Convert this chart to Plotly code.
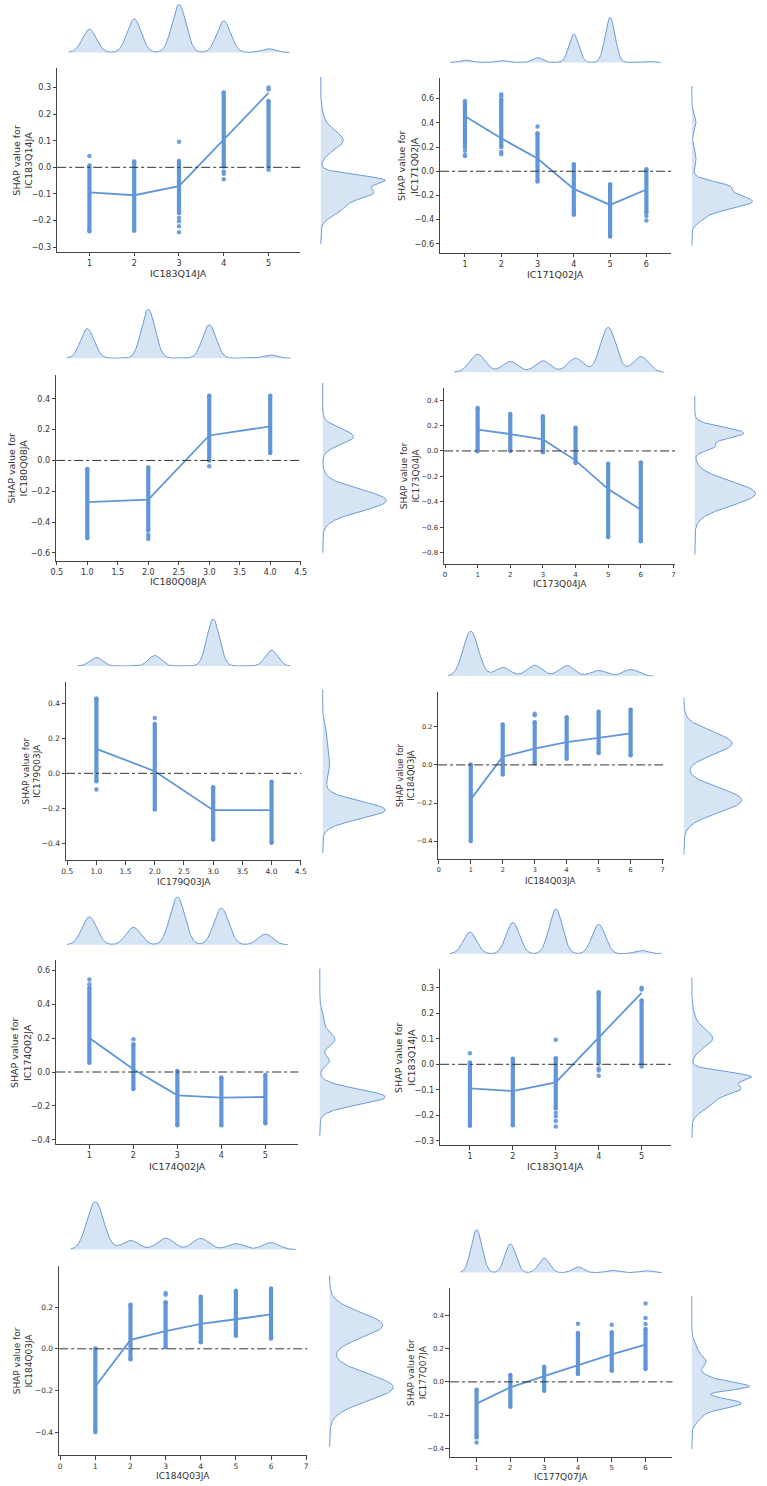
import numpy as np
import plotly.graph_objects as go

W, H = 767, 1486

# ---------------- data ----------------
# IC183Q14JA
q183_cats = [1, 2, 3, 4, 5]
q183_mean = [-0.094, -0.105, -0.071, 0.105, 0.280]
q183_lo = [-0.241, -0.239, -0.172, 0.003, 0.003]
q183_hi = [0.007, 0.022, 0.024, 0.282, 0.250]
q183_out_x = [1, 3, 3, 3, 3, 3, 4, 4, 4, 5, 5, 5]
q183_out_y = [0.043, 0.096, -0.190, -0.203, -0.222, -0.244, -0.016, -0.024, -0.045, 0.300, 0.293, -0.009]
q183_count = [70, 101, 145, 95, 11]
q183_bw = 0.155
q183_ky_c = [0.10, 0.17, -0.047, -0.095, -0.15]
q183_ky_h = [22, 3, 60, 48, 22]
q183_ky_w = [0.035, 0.04, 0.018, 0.022, 0.03]
q183_ky_span = [-0.288, 0.34]

# IC171Q02JA
q171_cats = [1, 2, 3, 4, 5, 6]
q171_mean = [0.455, 0.272, 0.105, -0.146, -0.278, -0.151]
q171_lo = [0.20, 0.20, -0.085, -0.360, -0.540, -0.340]
q171_hi = [0.55, 0.59, 0.314, 0.058, -0.107, 0.016]
q171_out_x = [1, 1, 1, 1, 1, 2, 2, 2, 2, 3, 6, 6]
q171_out_y = [0.58, 0.565, 0.17, 0.135, 0.127, 0.636, 0.62, 0.16, 0.14, 0.369, -0.37, -0.407]
q171_count = [7, 6, 15, 88, 140, 4]
q171_bw = 0.135
q171_ky_c = [-0.25, -0.12, -0.40, 0.10, 0.40]
q171_ky_h = [58, 28, 6, 4, 4]
q171_ky_w = [0.065, 0.04, 0.04, 0.08, 0.06]
q171_ky_span = [-0.614, 0.705]

# IC180Q08JA
q180_cats = [1, 2, 3, 4]
q180_mean = [-0.270, -0.254, 0.162, 0.221]
q180_lo = [-0.503, -0.453, 0.0, 0.048]
q180_hi = [-0.056, -0.045, 0.419, 0.420]
q180_out_x = [2, 2, 2, 3]
q180_out_y = [-0.48, -0.495, -0.509, -0.038]
q180_count = [90, 149, 102, 10]
q180_bw = 0.111
q180_ky_c = [0.155, -0.26]
q180_ky_h = [32, 66]
q180_ky_w = [0.05, 0.07]
q180_ky_span = [-0.598, 0.504]

# IC173Q04JA
q173_cats = [1, 2, 3, 4, 5, 6]
q173_mean = [0.167, 0.133, 0.091, -0.074, -0.300, -0.462]
q173_lo = [-0.003, 0.0, -0.010, -0.095, -0.677, -0.710]
q173_hi = [0.337, 0.290, 0.272, 0.183, -0.100, -0.090]
q173_out_x = []
q173_out_y = []
q173_count = [55, 33, 35, 43, 138, 48]
q173_bw = 0.24
q173_ky_c = [0.14, 0.03, -0.335]
q173_ky_h = [50, 18, 62]
q173_ky_w = [0.045, 0.03, 0.095]
q173_ky_span = [-0.816, 0.434]

# IC179Q03JA
q179_cats = [1, 2, 3, 4]
q179_mean = [0.140, 0.012, -0.210, -0.210]
q179_lo = [-0.045, -0.206, -0.377, -0.396]
q179_hi = [0.421, 0.282, -0.079, -0.048]
q179_out_x = [1, 1, 2]
q179_out_y = [-0.092, 0.427, 0.316]
q179_count = [26, 32, 143, 48]
q179_bw = 0.107
q179_ky_c = [-0.21, 0.05, 0.22]
q179_ky_h = [64, 7, 3]
q179_ky_w = [0.05, 0.09, 0.05]
q179_ky_span = [-0.453, 0.478]

# IC184Q03JA
q184_cats = [1, 2, 3, 4, 5, 6]
q184_mean = [-0.181, 0.043, 0.085, 0.120, 0.142, 0.165]
q184_lo = [-0.400, -0.050, 0.008, 0.032, 0.063, 0.050]
q184_hi = [0.002, 0.212, 0.224, 0.250, 0.279, 0.290]
q184_out_x = [3, 3]
q184_out_y = [0.268, 0.260]
q184_count = [137, 26, 33, 32, 17, 20]
q184_bw = 0.235
q184_ky_c = [0.113, -0.185]
q184_ky_h = [50, 60]
q184_ky_w = [0.06, 0.065]
q184_ky_span = [-0.47, 0.352]

# IC174Q02JA
q174_cats = [1, 2, 3, 4, 5]
q174_mean = [0.200, 0.016, -0.137, -0.151, -0.147]
q174_lo = [0.055, -0.100, -0.314, -0.314, -0.302]
q174_hi = [0.496, 0.163, 0.006, -0.033, -0.018]
q174_out_x = [1, 1, 2]
q174_out_y = [0.545, 0.516, 0.192]
q174_count = [86, 54, 148, 113, 33]
q174_bw = 0.168
q174_ky_c = [-0.147, 0.19, 0.065, 0.30]
q174_ky_h = [62, 14, 9, 4]
q174_ky_w = [0.045, 0.04, 0.03, 0.05]
q174_ky_span = [-0.376, 0.608]

# IC177Q07JA
q177_cats = [1, 2, 3, 4, 5, 6]
q177_mean = [-0.131, -0.033, 0.035, 0.101, 0.165, 0.224]
q177_lo = [-0.334, -0.149, -0.053, 0.047, 0.067, 0.077]
q177_hi = [-0.047, 0.041, 0.091, 0.294, 0.298, 0.318]
q177_out_x = [1, 4, 5, 6, 6, 6]
q177_out_y = [-0.364, 0.350, 0.344, 0.472, 0.384, 0.348]
q177_count = [133, 89, 45, 18, 7, 6]
q177_bw = 0.16
q177_ky_c = [-0.03, -0.128, 0.0, 0.12, -0.2, 0.2]
q177_ky_h = [42, 50, 24, 14, 10, 5]
q177_ky_w = [0.022, 0.03, 0.04, 0.035, 0.04, 0.04]
q177_ky_span = [-0.404, 0.518]


def feat(cats, mean, lo, hi, ox, oy, count, bw, kc, kh, kw, span):
    return dict(cats=cats, mean=mean, lo=lo, hi=hi, ox=ox, oy=oy, count=count,
                bw=bw, kc=kc, kh=kh, kw=kw, span=span)


FEAT = {
    "IC183Q14JA": feat(q183_cats, q183_mean, q183_lo, q183_hi, q183_out_x, q183_out_y, q183_count, q183_bw, q183_ky_c, q183_ky_h, q183_ky_w, q183_ky_span),
    "IC171Q02JA": feat(q171_cats, q171_mean, q171_lo, q171_hi, q171_out_x, q171_out_y, q171_count, q171_bw, q171_ky_c, q171_ky_h, q171_ky_w, q171_ky_span),
    "IC180Q08JA": feat(q180_cats, q180_mean, q180_lo, q180_hi, q180_out_x, q180_out_y, q180_count, q180_bw, q180_ky_c, q180_ky_h, q180_ky_w, q180_ky_span),
    "IC173Q04JA": feat(q173_cats, q173_mean, q173_lo, q173_hi, q173_out_x, q173_out_y, q173_count, q173_bw, q173_ky_c, q173_ky_h, q173_ky_w, q173_ky_span),
    "IC179Q03JA": feat(q179_cats, q179_mean, q179_lo, q179_hi, q179_out_x, q179_out_y, q179_count, q179_bw, q179_ky_c, q179_ky_h, q179_ky_w, q179_ky_span),
    "IC184Q03JA": feat(q184_cats, q184_mean, q184_lo, q184_hi, q184_out_x, q184_out_y, q184_count, q184_bw, q184_ky_c, q184_ky_h, q184_ky_w, q184_ky_span),
    "IC174Q02JA": feat(q174_cats, q174_mean, q174_lo, q174_hi, q174_out_x, q174_out_y, q174_count, q174_bw, q174_ky_c, q174_ky_h, q174_ky_w, q174_ky_span),
    "IC177Q07JA": feat(q177_cats, q177_mean, q177_lo, q177_hi, q177_out_x, q177_out_y, q177_count, q177_bw, q177_ky_c, q177_ky_h, q177_ky_w, q177_ky_span),
}

# tick values
t_int5 = [1, 2, 3, 4, 5]
t_int6 = [1, 2, 3, 4, 5, 6]
t_int07 = [0, 1, 2, 3, 4, 5, 6, 7]
t_half = [0.5, 1.0, 1.5, 2.0, 2.5, 3.0, 3.5, 4.0, 4.5]

# ---------------- layout of panels (pixel boxes) ----------------
panels = [
    dict(f="IC183Q14JA", L=52, R=299, T=68, B=252, xr=[0.28, 5.71], yr=[-0.318, 0.374], xt=t_int5, xd=0,
         yt=[-0.3, -0.2, -0.1, 0.0, 0.1, 0.2, 0.3], top=(53, 4), right=(319, 386), ylx=17, xly=274, fs=8, lfs=9.5),
    dict(f="IC171Q02JA", L=441, R=676, T=78, B=253, xr=[0.315, 6.69], yr=[-0.674, 0.771], xt=t_int6, xd=0,
         yt=[-0.6, -0.4, -0.2, 0.0, 0.2, 0.4, 0.6], top=(63, 17), right=(696, 759), ylx=408, xly=275, fs=8, lfs=9.5),
    dict(f="IC180Q08JA", L=51, R=300, T=375, B=561, xr=[0.49, 4.51], yr=[-0.65, 0.556], xt=t_half, xd=1,
         yt=[-0.6, -0.4, -0.2, 0.0, 0.2, 0.4], top=(359, 309), right=(321, 387), ylx=12, xly=582, fs=8, lfs=9.5),
    dict(f="IC173Q04JA", L=445, R=680, T=388, B=564, xr=[-0.03, 7.06], yr=[-0.886, 0.497], xt=t_int07, xd=0,
         yt=[-0.8, -0.6, -0.4, -0.2, 0.0, 0.2, 0.4], top=(373, 327), right=(699, 762), ylx=410, xly=584, fs=7, lfs=9),
    dict(f="IC179Q03JA", L=61, R=300, T=682, B=861, xr=[0.48, 4.51], yr=[-0.497, 0.524], xt=t_half, xd=1,
         yt=[-0.4, -0.2, 0.0, 0.2, 0.4], top=(667, 619), right=(321, 386), ylx=26, xly=883, fs=7.5, lfs=9),
    dict(f="IC184Q03JA", L=439, R=668, T=692, B=860, xr=[-0.02, 7.03], yr=[-0.496, 0.385], xt=t_int07, xd=0,
         yt=[-0.4, -0.2, 0.0, 0.2], top=(677, 631), right=(688, 748), ylx=406, xly=882, fs=6.5, lfs=8.5),
    dict(f="IC174Q02JA", L=51, R=297, T=961, B=1145, xr=[0.246, 5.75], yr=[-0.425, 0.657], xt=t_int5, xd=0,
         yt=[-0.4, -0.2, 0.0, 0.2, 0.4, 0.6], top=(946, 897), right=(318, 386), ylx=15, xly=1167, fs=8, lfs=9.5),
    dict(f="IC183Q14JA", L=441, R=676, T=970, B=1146, xr=[0.305, 5.695], yr=[-0.317, 0.372], xt=t_int5, xd=0,
         yt=[-0.3, -0.2, -0.1, 0.0, 0.1, 0.2, 0.3], top=(955, 909), right=(696, 758), ylx=405, xly=1167, fs=8, lfs=9.5),
    dict(f="IC184Q03JA", L=54, R=306, T=1267, B=1456, xr=[-0.03, 7.03], yr=[-0.51, 0.397], xt=t_int07, xd=0,
         yt=[-0.4, -0.2, 0.0, 0.2], top=(1251, 1202), right=(328, 394), ylx=17, xly=1477, fs=7.5, lfs=9),
    dict(f="IC177Q07JA", L=451, R=677, T=1289, B=1458, xr=[0.213, 6.795], yr=[-0.452, 0.564], xt=t_int6, xd=0,
         yt=[-0.4, -0.2, 0.0, 0.2, 0.4], top=(1274, 1230), right=(696, 756), ylx=417, xly=1478, fs=7, lfs=9),
]

BLUE = "#6096d8"
KDE_LINE = "#6b9bd6"
KDE_FILL = "rgba(106,155,214,0.27)"
AXC = "#444444"
TXT = "#333333"
FONT = "DejaVu Sans"


def fmt(v, d):
    s = f"{v:.{d}f}"
    if s.startswith("-"):
        if float(s) == 0:
            s = s[1:]
        else:
            s = "\u2212" + s[1:]
    return s


def axn(n, k):
    return f"{k}axis" if n == 1 else f"{k}axis{n}"


def refn(n, k):
    return k if n == 1 else f"{k}{n}"


fig = go.Figure()
layout = {}
shapes = []
annos = []

for i, p in enumerate(panels):
    d = FEAT[p["f"]]
    a, b, c = 3 * i + 1, 3 * i + 2, 3 * i + 3
    xdom = [p["L"] / W, p["R"] / W]
    ydom = [1 - p["B"] / H, 1 - p["T"] / H]

    # ---- main axes
    layout[axn(a, "x")] = dict(
        domain=xdom, range=p["xr"], anchor=refn(a, "y"),
        tickvals=p["xt"], ticktext=[fmt(v, p["xd"]) for v in p["xt"]],
        ticks="outside", ticklen=3.5, tickwidth=1, tickcolor=AXC,
        showline=True, linecolor=AXC, linewidth=1, showgrid=False, zeroline=False,
        tickfont=dict(family=FONT, size=p["fs"], color=TXT))
    layout[axn(a, "y")] = dict(
        domain=ydom, range=p["yr"], anchor=refn(a, "x"),
        tickvals=p["yt"], ticktext=[fmt(v, 1) for v in p["yt"]],
        ticks="outside", ticklen=3.5, tickwidth=1, tickcolor=AXC,
        showline=True, linecolor=AXC, linewidth=1, showgrid=False, zeroline=False,
        tickfont=dict(family=FONT, size=p["fs"], color=TXT))

    xr_, yr_ = refn(a, "x"), refn(a, "y")
    # zero reference line
    shapes.append(dict(type="line", xref=f"{xr_} domain", x0=0, x1=1, yref=yr_, y0=0, y1=0,
                       line=dict(color="#333333", width=1, dash="dashdot"), layer="above"))
    # dense strips of points
    sx, sy = [], []
    for k, lo, hi in zip(d["cats"], d["lo"], d["hi"]):
        sx += [k, k, None]
        sy += [lo, hi, None]
    fig.add_trace(go.Scatter(x=sx, y=sy, mode="lines+markers", xaxis=xr_, yaxis=yr_,
                             line=dict(color=BLUE, width=4.2),
                             marker=dict(color=BLUE, size=4.5), hoverinfo="skip"))
    if d["ox"]:
        fig.add_trace(go.Scatter(x=d["ox"], y=d["oy"], mode="markers", xaxis=xr_, yaxis=yr_,
                                 marker=dict(color=BLUE, size=4.5, opacity=0.9), hoverinfo="skip"))
    # mean line
    fig.add_trace(go.Scatter(x=d["cats"], y=d["mean"], mode="lines", xaxis=xr_, yaxis=yr_,
                             line=dict(color=BLUE, width=1.8), hoverinfo="skip"))

    # ---- top marginal KDE
    bw = d["bw"]
    gx = np.linspace(d["cats"][0] - 3 * bw, d["cats"][-1] + 3 * bw, 500)
    dx = np.zeros_like(gx)
    for k, n in zip(d["cats"], d["count"]):
        dx += n * np.exp(-(gx - k) ** 2 / (2 * bw ** 2))
    mx = dx.max()
    layout[axn(b, "x")] = dict(domain=xdom, range=p["xr"], anchor=refn(b, "y"), visible=False)
    layout[axn(b, "y")] = dict(domain=[1 - p["top"][0] / H, 1 - p["top"][1] / H],
                               range=[-0.012 * mx, 1.01 * mx], anchor=refn(b, "x"), visible=False)
    fig.add_trace(go.Scatter(x=gx, y=dx, mode="lines", fill="tozeroy", fillcolor=KDE_FILL,
                             line=dict(color=KDE_LINE, width=1), xaxis=refn(b, "x"), yaxis=refn(b, "y"),
                             hoverinfo="skip"))

    # ---- right marginal KDE
    gy = np.linspace(d["span"][0], d["span"][1], 500)
    dy = np.zeros_like(gy)
    for cc, hh, ww in zip(d["kc"], d["kh"], d["kw"]):
        dy += hh * np.exp(-(gy - cc) ** 2 / (2 * ww ** 2))
    my = dy.max()
    layout[axn(c, "x")] = dict(domain=[p["right"][0] / W, p["right"][1] / W],
                               range=[-0.012 * my, 1.01 * my], anchor=refn(c, "y"), visible=False)
    layout[axn(c, "y")] = dict(domain=ydom, range=p["yr"], anchor=refn(c, "x"), visible=False)
    fig.add_trace(go.Scatter(x=dy, y=gy, mode="lines", fill="tozerox", fillcolor=KDE_FILL,
                             line=dict(color=KDE_LINE, width=1), xaxis=refn(c, "x"), yaxis=refn(c, "y"),
                             hoverinfo="skip"))

    # ---- axis titles
    annos.append(dict(text=f"SHAP value for<br>{p['f']}", textangle=-90, xref="paper", yref="paper",
                      x=p["ylx"] / W, y=(ydom[0] + ydom[1]) / 2, showarrow=False,
                      xanchor="center", yanchor="middle",
                      font=dict(family=FONT, size=p["lfs"], color=TXT)))
    annos.append(dict(text=p["f"], xref="paper", yref="paper",
                      x=(xdom[0] + xdom[1]) / 2, y=1 - p["xly"] / H, showarrow=False,
                      xanchor="center", yanchor="middle",
                      font=dict(family=FONT, size=p["lfs"], color=TXT)))

fig.update_layout(**layout)
fig.update_layout(width=W, height=H, margin=dict(l=0, r=0, t=0, b=0),
                  paper_bgcolor="white", plot_bgcolor="white", showlegend=False,
                  shapes=shapes, annotations=annos, font=dict(family=FONT))
fig.write_html("out.html")
